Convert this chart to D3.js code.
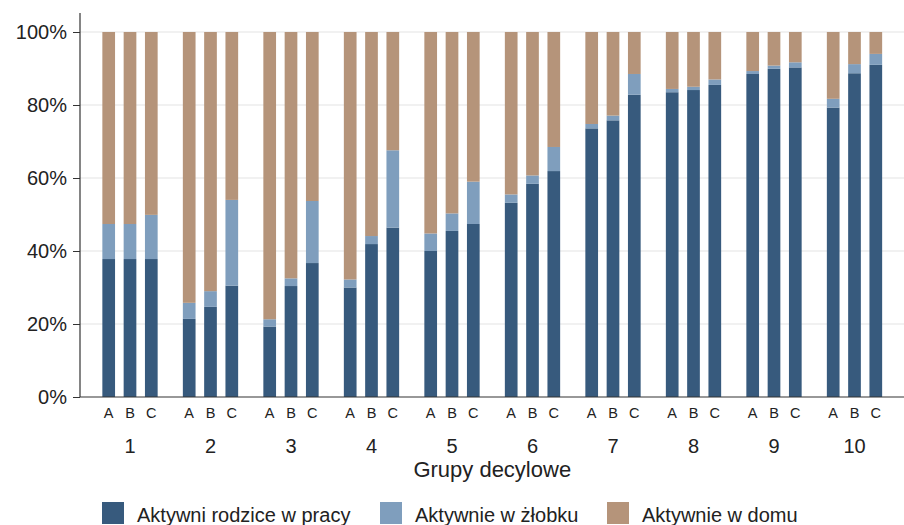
<!DOCTYPE html>
<html>
<head>
<meta charset="utf-8">
<script src="https://cdn.jsdelivr.net/npm/d3@7"></script>
<style>
  html, body { margin: 0; padding: 0; background: #fff; }
  svg { display: block; font-family: "Liberation Sans", Arial, sans-serif; }
</style>
</head>
<body>
<svg id="chart" width="904" height="525"></svg>
<script>
// ---- data ----
const deciles = ["1","2","3","4","5","6","7","8","9","10"];
const variants = ["A","B","C"];
const seriesNames = ["Aktywni rodzice w pracy", "Aktywnie w żłobku", "Aktywnie w domu"];
const seriesKeys = ["work", "nursery", "home"];
const seriesColors = ["#375a7d", "#7f9ebd", "#b5947a"];
const yTicks = [0, 20, 40, 60, 80, 100];
const xTitle = "Grupy decylowe";

// per decile: [A, B, C] (percent)
const work = [
  [37.8, 37.8, 37.8],
  [21.4, 24.7, 30.5],
  [19.3, 30.4, 36.7],
  [30.0, 41.9, 46.4],
  [40.0, 45.5, 47.4],
  [53.2, 58.4, 61.9],
  [73.6, 75.8, 82.8],
  [83.5, 84.1, 85.5],
  [88.5, 89.9, 90.3],
  [79.3, 88.7, 91.0]
];
const nursery = [
  [9.6, 9.6, 12.1],
  [4.4, 4.3, 23.5],
  [2.0, 2.1, 17.0],
  [2.2, 2.2, 21.2],
  [4.8, 4.8, 11.6],
  [2.3, 2.3, 6.6],
  [1.2, 1.3, 5.7],
  [0.9, 0.9, 1.5],
  [0.8, 0.9, 1.4],
  [2.4, 2.5, 3.0]
];
const home = [
  [52.6, 52.6, 50.1],
  [74.2, 71.0, 46.0],
  [78.7, 67.5, 46.3],
  [67.8, 55.9, 32.4],
  [55.2, 49.7, 41.0],
  [44.5, 39.3, 31.5],
  [25.2, 22.9, 11.5],
  [15.6, 15.0, 13.0],
  [10.7, 9.2, 8.3],
  [18.3, 8.8, 6.0]
];

// ---- build rows ----
const rows = [];
deciles.forEach((d, i) => {
  variants.forEach((v, j) => {
    rows.push({ decile: d, variant: v, work: work[i][j], nursery: nursery[i][j], home: home[i][j] });
  });
});

const svg = d3.select("#chart");
const axisX = 80, x0 = 89.75, x1 = 894.75, yBottom = 397, yTop = 32;

const xOuter = d3.scaleBand().domain(deciles).range([x0, x1]).padding(0);
const half = 27.65;
const xInner = d3.scaleBand().domain(variants)
  .range([xOuter.bandwidth() / 2 - half, xOuter.bandwidth() / 2 + half])
  .paddingInner(0.404).paddingOuter(0);
const y = d3.scaleLinear().domain([0, 100]).range([yBottom, yTop]);
const color = d3.scaleOrdinal().domain(seriesKeys).range(seriesColors);

// gridlines
svg.append("g").selectAll("line").data(yTicks.filter(t => t > 0)).join("line")
  .attr("x1", axisX).attr("x2", 904)
  .attr("y1", d => y(d)).attr("y2", d => y(d))
  .attr("stroke", "#e3e3e3").attr("stroke-width", 1.2);

// bars
const stacked = d3.stack().keys(seriesKeys)(rows);
svg.append("g").selectAll("g").data(stacked).join("g")
  .attr("fill", d => color(d.key))
  .selectAll("rect").data(d => d).join("rect")
  .attr("x", d => xOuter(d.data.decile) + xInner(d.data.variant))
  .attr("width", xInner.bandwidth())
  .attr("y", d => y(d[1]))
  .attr("height", d => y(d[0]) - y(d[1]));

// y axis
const yAxis = d3.axisLeft(y).tickValues(yTicks).tickFormat(d => d + "%").tickSize(7).tickPadding(6);
const gy = svg.append("g").attr("transform", `translate(${axisX},0)`).call(yAxis);
gy.select(".domain").remove();
gy.selectAll(".tick line").attr("stroke", "#333");
gy.selectAll(".tick text").attr("font-size", 20).attr("fill", "#222")
  .attr("font-family", "Liberation Sans, Arial, sans-serif");
svg.append("line").attr("x1", axisX).attr("x2", axisX).attr("y1", 13).attr("y2", yBottom)
  .attr("stroke", "#333").attr("stroke-width", 1.2);
svg.append("line").attr("x1", axisX).attr("x2", 904).attr("y1", yBottom).attr("y2", yBottom)
  .attr("stroke", "#333").attr("stroke-width", 1.2);

// variant labels
svg.append("g").selectAll("text").data(rows).join("text")
  .attr("x", d => xOuter(d.decile) + xInner(d.variant) + xInner.bandwidth() / 2)
  .attr("y", 418)
  .attr("text-anchor", "middle")
  .attr("font-size", 14.5).attr("fill", "#222")
  .text(d => d.variant);

// decile labels
svg.append("g").selectAll("text").data(deciles).join("text")
  .attr("x", d => xOuter(d) + xOuter.bandwidth() / 2)
  .attr("y", 453)
  .attr("text-anchor", "middle")
  .attr("font-size", 20).attr("fill", "#222")
  .text(d => d);

// axis title
svg.append("text").attr("x", (x0 + x1) / 2).attr("y", 477)
  .attr("text-anchor", "middle").attr("font-size", 22).attr("fill", "#222")
  .text(xTitle);

// legend
const legendX = [102, 380, 607];
const lg = svg.append("g").selectAll("g").data(seriesKeys).join("g")
  .attr("transform", (d, i) => `translate(${legendX[i]},502)`);
lg.append("rect").attr("width", 22).attr("height", 22).attr("fill", d => color(d));
lg.append("text").attr("x", 35).attr("y", 19.5).attr("font-size", 20).attr("fill", "#222")
  .text((d, i) => seriesNames[i]);
</script>
</body>
</html>
